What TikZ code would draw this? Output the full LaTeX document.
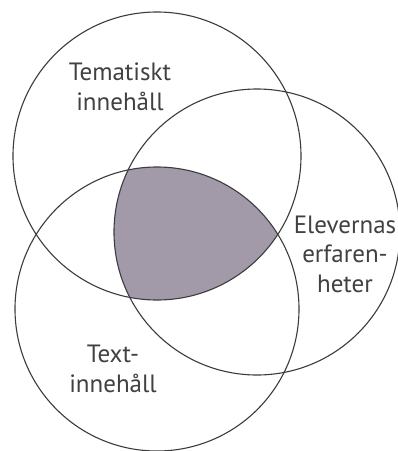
\documentclass[tikz,border=0pt]{standalone}
\usepackage{fontspec}
\setmainfont{PT Sans}
\definecolor{lensfill}{RGB}{163,154,169}
\definecolor{ink}{RGB}{60,60,62}
\definecolor{txt}{RGB}{65,65,68}
\begin{document}
\begin{tikzpicture}[x=1pt,y=-1pt,
  ring/.style={draw=ink,line width=1.1pt},
  lbl/.style={text=txt,font=\fontsize{25}{29.5}\selectfont,align=center,inner sep=0pt}]
\useasboundingbox[fill=white] (0,0) rectangle (398,451);
\coordinate (cA) at (157,156);
\coordinate (cB) at (257,232);
\coordinate (cC) at (157,309);
\begin{scope}
  \clip (cA) circle (144);
  \clip (cB) circle (143);
  \fill[lensfill] (cC) circle (142);
\end{scope}
\draw[ring] (cA) circle (144);
\draw[ring] (cB) circle (143);
\draw[ring] (cC) circle (142);
\node[lbl] (tema) at (120,87) {Tematiskt\\innehåll};
\node[lbl] (elev) at (345,254) {Elevernas\\erfaren-\\heter};
\node[lbl] (text) at (113,369) {Text-\\innehåll};
\end{tikzpicture}
\end{document}
